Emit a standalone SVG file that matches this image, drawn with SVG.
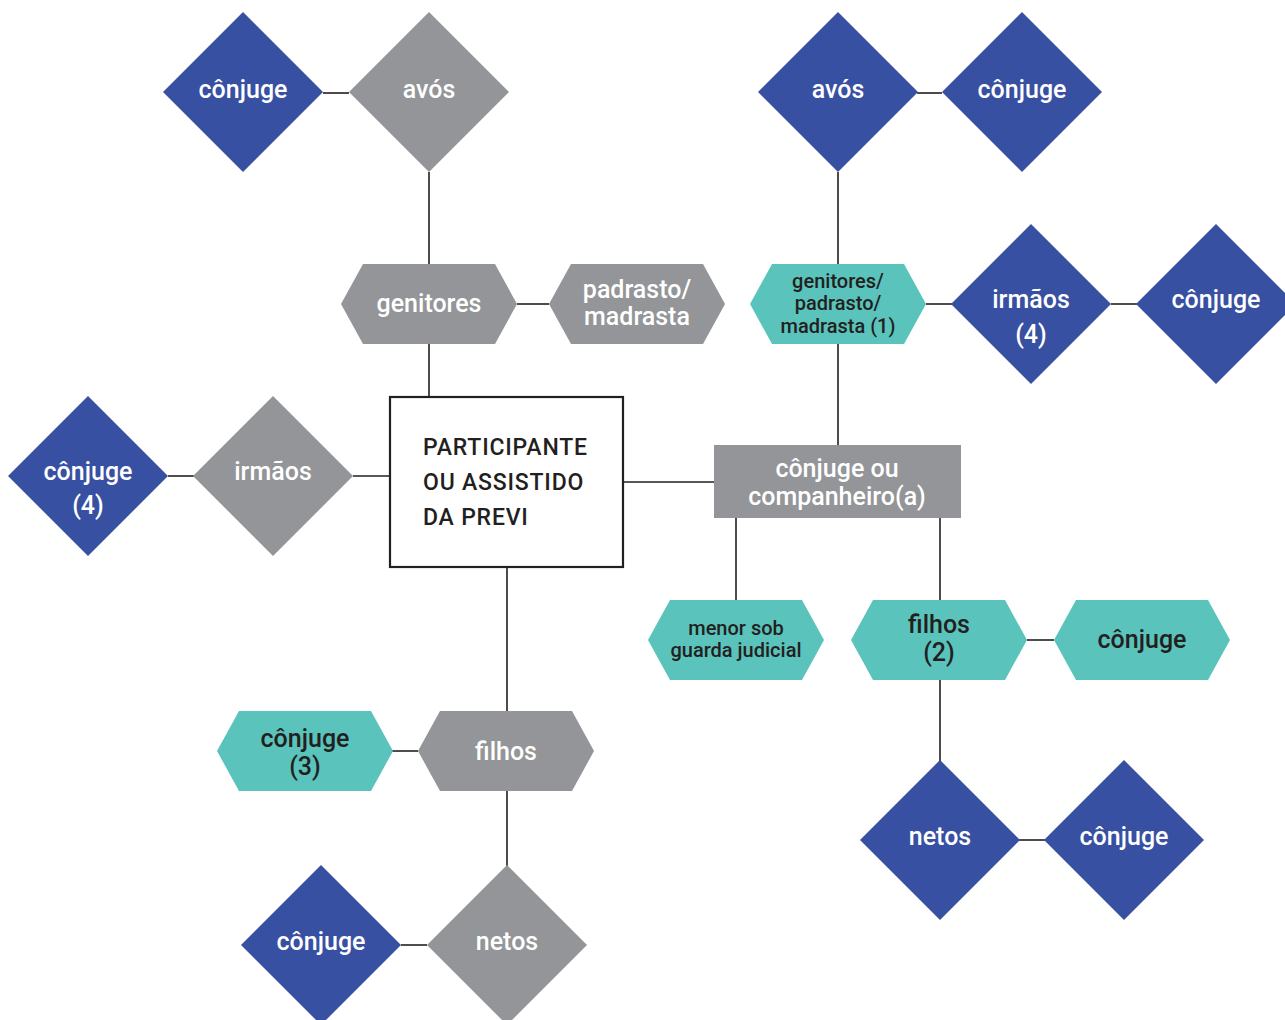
<svg xmlns="http://www.w3.org/2000/svg" xmlns:xlink="http://www.w3.org/1999/xlink" width="1285" height="1020" viewBox="0 0 1285 1020">
<style>
.blue{fill:#3850a2}
.gray{fill:#939598}
.teal{fill:#59c3bc}
.t{font-family:Roboto,"DejaVu Sans",sans-serif;font-weight:500;text-anchor:middle}
.w{fill:#ffffff}
.d{fill:#231f20}
.f24{font-size:25px}
.f20{font-size:20px}
.c line{stroke:#231f20;stroke-width:1.6}
</style>
<defs>
<polygon id="dia" points="0,-80 80,0 0,80 -80,0"/>
<polygon id="hex" points="-88,0 -66,-40 66,-40 88,0 66,40 -66,40"/>
</defs>
<rect width="1285" height="1020" fill="#ffffff"/>
<g class="c">
<line x1="323" y1="93" x2="349" y2="93"/>
<line x1="429" y1="172" x2="429" y2="264"/>
<line x1="517" y1="304" x2="549" y2="304"/>
<line x1="429" y1="344" x2="429" y2="397"/>
<line x1="168" y1="476" x2="194" y2="476"/>
<line x1="353" y1="476" x2="389" y2="476"/>
<line x1="623" y1="482" x2="714" y2="482"/>
<line x1="917" y1="93" x2="942" y2="93"/>
<line x1="838" y1="172" x2="838" y2="264"/>
<line x1="838" y1="344" x2="838" y2="445"/>
<line x1="926" y1="304" x2="952" y2="304"/>
<line x1="1111" y1="304" x2="1137" y2="304"/>
<line x1="736" y1="518" x2="736" y2="600"/>
<line x1="940" y1="518" x2="940" y2="600"/>
<line x1="1027" y1="640" x2="1054" y2="640"/>
<line x1="940" y1="679" x2="940" y2="761"/>
<line x1="1019" y1="840" x2="1045" y2="840"/>
<line x1="507" y1="567" x2="507" y2="712"/>
<line x1="392" y1="751" x2="418" y2="751"/>
<line x1="507" y1="791" x2="507" y2="866"/>
<line x1="401" y1="945" x2="427" y2="945"/>
</g>
<g id="conjuge-tl"><use xlink:href="#dia" x="243" y="92" class="blue"/><text class="t w f24" x="243" y="98">cônjuge</text></g>
<g id="avos-l"><use xlink:href="#dia" x="429" y="92" class="gray"/><text class="t w f24" x="429" y="98">avós</text></g>
<g id="genitores"><use xlink:href="#hex" x="429" y="304" class="gray"/><text class="t w f24" x="429" y="312">genitores</text></g>
<g id="padrasto"><use xlink:href="#hex" x="637" y="304" class="gray"/><text class="t w f24" x="637" y="298">padrasto/<tspan x="637" y="325">madrasta</tspan></text></g>
<g id="participante"><rect x="390" y="397" width="233" height="170" fill="#ffffff" stroke="#231f20" stroke-width="2.2"/>
<text class="d" style="font-family:Roboto,'DejaVu Sans',sans-serif;font-weight:500;font-size:23px;letter-spacing:0.8px" x="423" y="455">PARTICIPANTE<tspan x="423" y="490">OU ASSISTIDO</tspan><tspan x="423" y="525">DA PREVI</tspan></text></g>
<g id="irmaos-l"><use xlink:href="#dia" x="273" y="476" class="gray"/><text class="t w f24" x="273" y="480">irmãos</text></g>
<g id="conjuge4-l"><use xlink:href="#dia" x="88" y="476" class="blue"/><text class="t w f24" x="88" y="480">cônjuge<tspan x="88" y="514">(4)</tspan></text></g>
<g id="companheiro"><rect x="714" y="445" width="247" height="73" class="gray"/><text class="t w f24" x="837" y="477">cônjuge ou<tspan x="837" y="505">companheiro(a)</tspan></text></g>
<g id="avos-r"><use xlink:href="#dia" x="838" y="92" class="blue"/><text class="t w f24" x="838" y="98">avós</text></g>
<g id="conjuge-tr"><use xlink:href="#dia" x="1022" y="92" class="blue"/><text class="t w f24" x="1022" y="98">cônjuge</text></g>
<g id="genitores1"><use xlink:href="#hex" x="838" y="304" class="teal"/><text class="t d f20" x="838" y="288">genitores/<tspan x="838" y="310">padrasto/</tspan><tspan x="838" y="333">madrasta (1)</tspan></text></g>
<g id="irmaos4"><use xlink:href="#dia" x="1031" y="304" class="blue"/><text class="t w f24" x="1031" y="308">irmãos<tspan x="1031" y="343">(4)</tspan></text></g>
<g id="conjuge-r"><use xlink:href="#dia" x="1216" y="304" class="blue"/><text class="t w f24" x="1216" y="308">cônjuge</text></g>
<g id="menor"><use xlink:href="#hex" x="736" y="640" class="teal"/><text class="t d f20" x="736" y="635">menor sob<tspan x="736" y="657">guarda judicial</tspan></text></g>
<g id="filhos2"><use xlink:href="#hex" x="939" y="640" class="teal"/><text class="t d f24" x="939" y="633">filhos<tspan x="939" y="661">(2)</tspan></text></g>
<g id="conjuge-f2"><use xlink:href="#hex" x="1142" y="640" class="teal"/><text class="t d f24" x="1142" y="648">cônjuge</text></g>
<g id="netos-r"><use xlink:href="#dia" x="940" y="840" class="blue"/><text class="t w f24" x="940" y="845">netos</text></g>
<g id="conjuge-nr"><use xlink:href="#dia" x="1124" y="840" class="blue"/><text class="t w f24" x="1124" y="845">cônjuge</text></g>
<g id="filhos"><use xlink:href="#hex" x="506" y="751" class="gray"/><text class="t w f24" x="506" y="760">filhos</text></g>
<g id="conjuge3"><use xlink:href="#hex" x="305" y="751" class="teal"/><text class="t d f24" x="305" y="747">cônjuge<tspan x="305" y="775">(3)</tspan></text></g>
<g id="netos-l"><use xlink:href="#dia" x="507" y="945" class="gray"/><text class="t w f24" x="507" y="950">netos</text></g>
<g id="conjuge-nl"><use xlink:href="#dia" x="321" y="945" class="blue"/><text class="t w f24" x="321" y="950">cônjuge</text></g>
</svg>
